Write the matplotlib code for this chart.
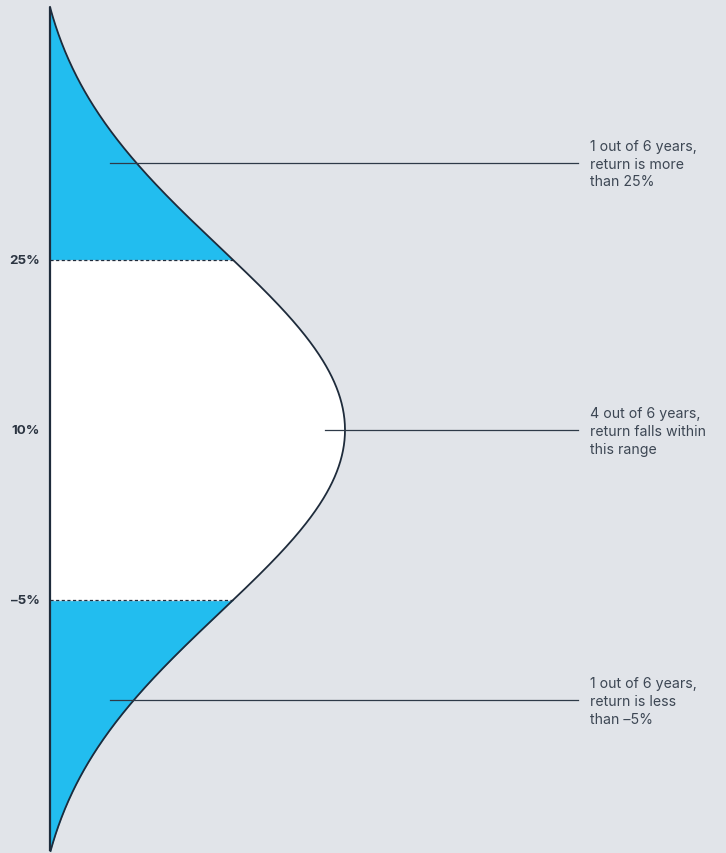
import numpy as np
import matplotlib
matplotlib.use("Agg")
import matplotlib.pyplot as plt

# ---- data ----
mean_return = 10.0          # %
std_return = 15.0           # %
band_low = -5.0
band_high = 25.0
tick_values = [25, 10, -5]
tick_labels = ["25%", "10%", "\u20135%"]
annot_texts = [
    "1 out of 6 years,\nreturn is more\nthan 25%",
    "4 out of 6 years,\nreturn falls within\nthis range",
    "1 out of 6 years,\nreturn is less\nthan \u20135%",
]
annot_y = [33.6, 10.0, -13.8]
annot_x_start = [0.203, 0.932, 0.203]

BG = "#e1e4e9"
BLUE = "#22bdef"
NAVY = "#1e2b3b"
TEXT = "#3d4754"

plt.rcParams['font.family'] = ['Inter', 'DejaVu Sans']

fig = plt.figure(figsize=(7.26, 8.54), dpi=100, facecolor=BG)
ax = fig.add_axes([0, 0, 1, 1])
ax.set_facecolor(BG)

# pixel mapping: x=0 at px 50, x=1 at px 345; y=10 at px 431, 15% per 170 px
px_per_x = 295.0
px_per_pct = 170.0 / 15.0
ax.set_xlim(-50 / px_per_x, (726 - 50) / px_per_x)
ax.set_ylim(10 - (854 - 431) / px_per_pct, 10 + 431 / px_per_pct)
ax.axis("off")

y_top = 10 + (431 - 8) / px_per_pct
y_bot = 10 - (852 - 431) / px_per_pct
y = np.linspace(y_bot, y_top, 800)
spread = std_return * 1.07
edge = np.exp(-0.5 * ((y_top - mean_return) / spread) ** 2)
dens = (np.exp(-0.5 * ((y - mean_return) / spread) ** 2) - edge) / (1 - edge)
dens = np.clip(dens, 0, None)

# fills
hi = y >= band_high
lo = y <= band_low
mid = (y >= band_low) & (y <= band_high)
ax.fill_betweenx(y[hi], 0, dens[hi], color=BLUE, lw=0, zorder=1)
ax.fill_betweenx(y[lo], 0, dens[lo], color=BLUE, lw=0, zorder=1)
ax.fill_betweenx(y[mid], 0, dens[mid], color="white", lw=0, zorder=1)

# curve
ax.plot(dens, y, color=NAVY, lw=1.3, zorder=3)
# axis line
ax.plot([0, 0], [y_bot, y_top], color=NAVY, lw=1.6, zorder=4, solid_capstyle="butt")

# dashed boundaries
for b in (band_high, band_low):
    d = (np.exp(-0.5 * ((b - mean_return) / spread) ** 2) - edge) / (1 - edge)
    ax.plot([0, d], [b, b], color=NAVY, lw=0.9, ls=(0, (2.5, 2)), zorder=2)

# tick labels
for v, lab in zip(tick_values, tick_labels):
    ax.text(-10 / px_per_x, v, lab, ha="right", va="center", fontsize=9.6,
            fontweight="bold", color="#2b3441")

# annotations
x_line_end = (578 - 50) / px_per_x
x_text = (590 - 50) / px_per_x
for t, yy, xs in zip(annot_texts, annot_y, annot_x_start):
    ax.plot([xs, x_line_end], [yy, yy], color="#2e3a48", lw=0.9, zorder=5)
    ax.text(x_text, yy - 0.1, t, ha="left", va="center", fontsize=10.2, color=TEXT,
            linespacing=1.34)

fig.savefig("out.png", dpi=100, facecolor=BG)
